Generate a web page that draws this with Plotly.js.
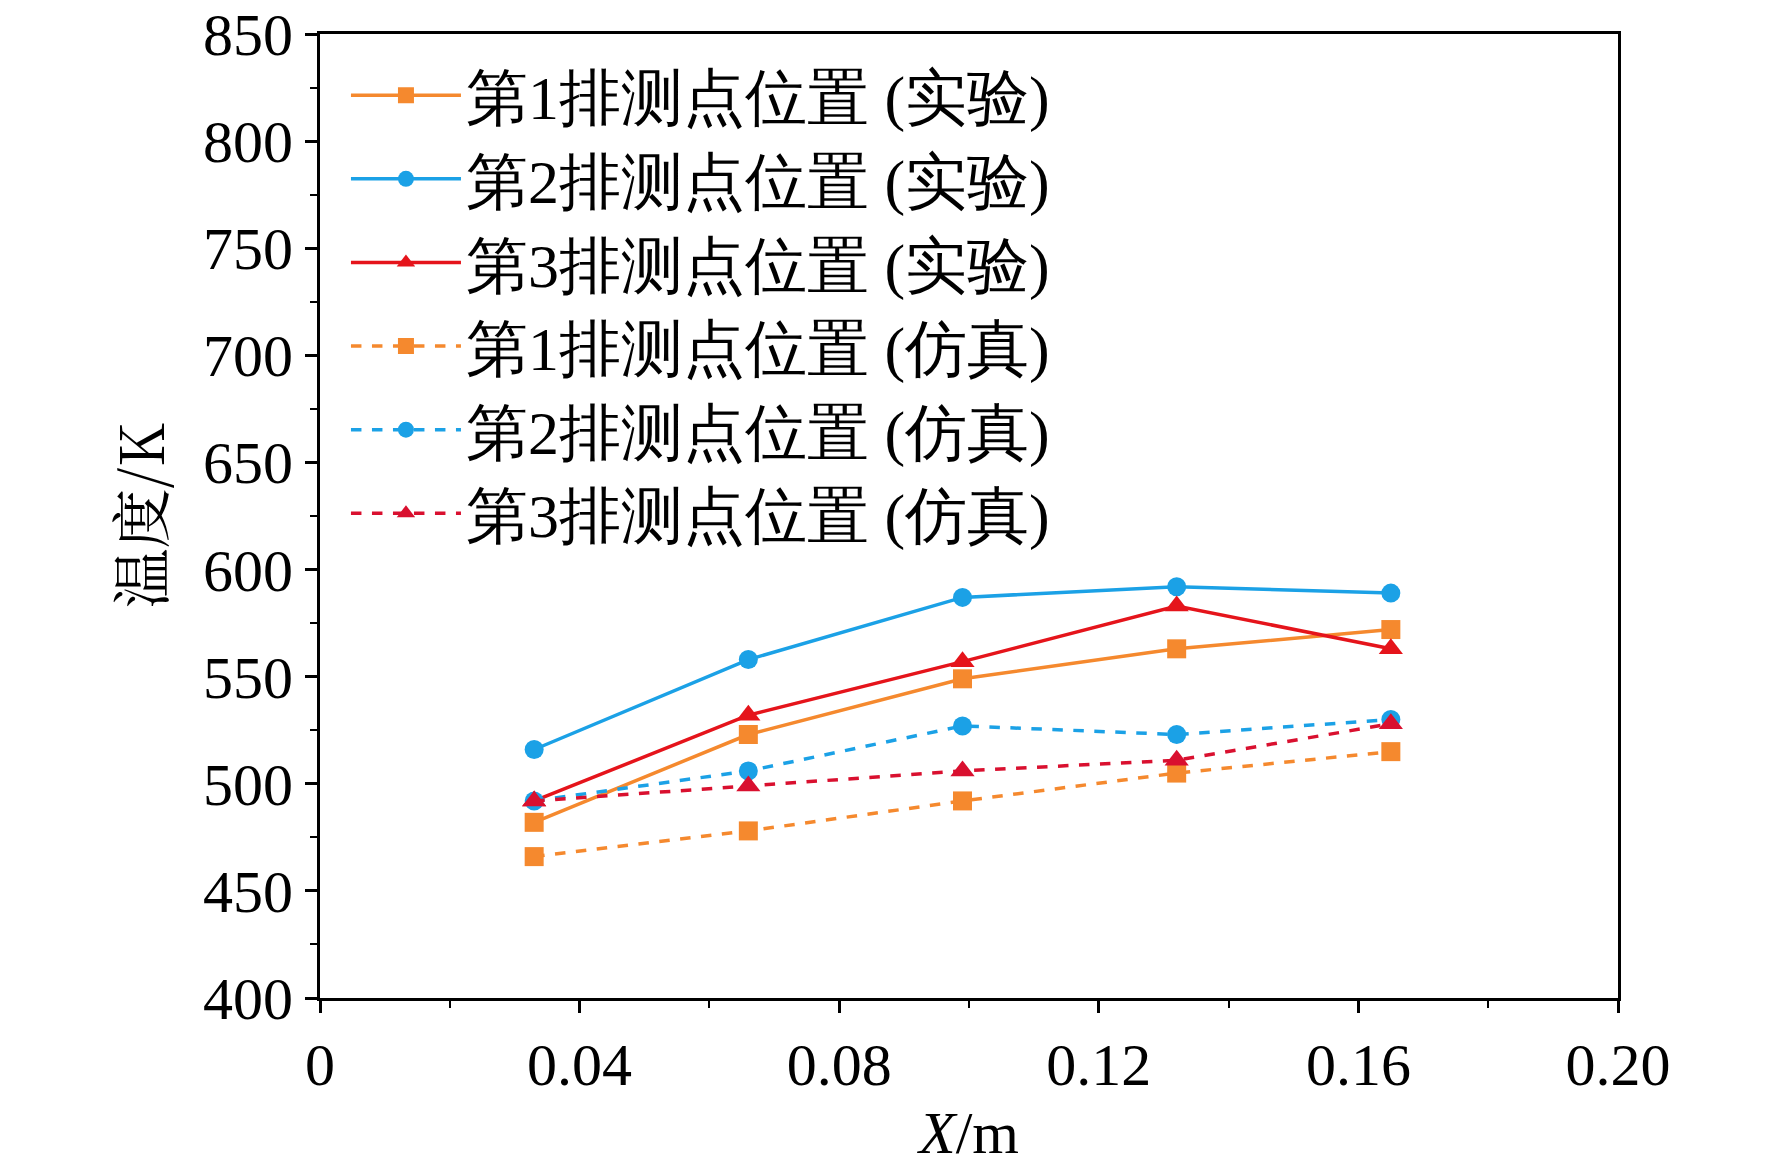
<!DOCTYPE html>
<html><head><meta charset="utf-8">
<script src="https://cdn.plot.ly/plotly-3.0.1.min.js"></script>
<style>body{margin:0;background:#fff}#c{width:1772px;height:1170px}</style>
</head><body><div id="c"></div>
<script>
const xPos = [0.033, 0.066, 0.099, 0.132, 0.165];
const exp1 = [482, 523, 549, 563, 572];
const exp2 = [516, 558, 587, 592, 589];
const exp3 = [492, 532, 557, 583, 563];
const sim1 = [466, 478, 492, 505, 515];
const sim2 = [492, 506, 527, 523, 530];
const sim3 = [492, 499, 506, 511, 528];
const names = ['第1排测点位置 (实验)', '第2排测点位置 (实验)', '第3排测点位置 (实验)',
               '第1排测点位置 (仿真)', '第2排测点位置 (仿真)', '第3排测点位置 (仿真)'];
const xTickVals = [0, 0.04, 0.08, 0.12, 0.16, 0.20];
const xTickText = ['0', '0.04', '0.08', '0.12', '0.16', '0.20'];

const ORANGE = '#F5892E', BLUE = '#1BA1E6', RED = '#E5141B', DRED = '#D9102F';
const FONT = 'Liberation Serif, Times New Roman, serif';

function trace(y, name, color, symbol, dash) {
  return {
    x: xPos, y, name, type: 'scatter', mode: 'lines+markers',
    line: { color, width: 3.5, dash: dash ? 'dash' : 'solid' },
    marker: { color, symbol, size: symbol === 'triangle-up' ? 21 : 19 },
  };
}

const data = [
  trace(exp1, names[0], ORANGE, 'square', false),
  trace(exp2, names[1], BLUE, 'circle', false),
  trace(exp3, names[2], RED, 'triangle-up', false),
  trace(sim1, names[3], ORANGE, 'square', true),
  trace(sim2, names[4], BLUE, 'circle', true),
  trace(sim3, names[5], DRED, 'triangle-up', true),
];

const axisCommon = {
  showgrid: false, zeroline: false, showline: true, mirror: true,
  linecolor: '#000', linewidth: 3, ticks: 'outside', ticklen: 12, tickwidth: 3,
  tickcolor: '#000', tickfont: { family: FONT, size: 60, color: '#000' },
  minor: { ticks: 'outside', ticklen: 7, tickwidth: 2, tickcolor: '#000' },
};

Plotly.newPlot('c', data, {
  width: 1772, height: 1170,
  paper_bgcolor: '#fff', plot_bgcolor: '#fff',
  font: { family: FONT, color: '#000' },
  margin: { l: 320, r: 154, t: 34, b: 172 },
  showlegend: true,
  legend: {
    x: 0.02, y: 0.985, xanchor: 'left', yanchor: 'top',
    font: { family: FONT, size: 62, color: '#000' },
    bgcolor: 'rgba(0,0,0,0)', tracegroupgap: 0, itemwidth: 110,
  },
  xaxis: {
    ...axisCommon, range: [0, 0.2],
    tickvals: xTickVals, ticktext: xTickText,
    minor: { ...axisCommon.minor, dtick: 0.02, tick0: 0 },
    title: { text: '<i>X</i>/m', font: { family: FONT, size: 60 }, standoff: 14 },
  },
  yaxis: {
    ...axisCommon, range: [400, 850], dtick: 50,
    minor: { ...axisCommon.minor, dtick: 25 },
    title: { text: '温度/K', font: { family: 'Noto Serif CJK SC, Noto Sans CJK SC, ' + FONT, size: 60 }, standoff: 20 },
  },
}, { displayModeBar: false });
</script></body></html>
